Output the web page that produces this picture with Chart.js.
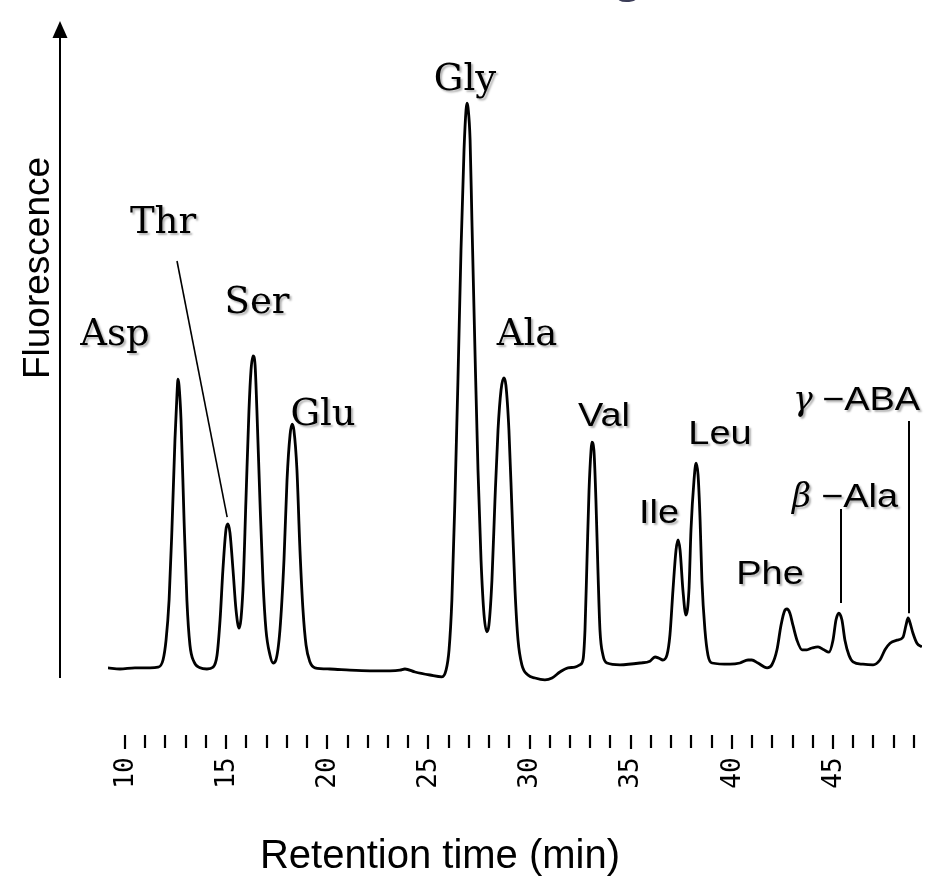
<!DOCTYPE html>
<html>
<head>
<meta charset="utf-8">
<script src="https://cdn.jsdelivr.net/npm/chart.js@4.4.1/dist/chart.umd.min.js"></script>
<style>
html, body { margin: 0; padding: 0; background: #fff; }
#chromatogram { display: block; }
</style>
</head>
<body>
<canvas id="chromatogram" width="931" height="891"></canvas>
<script>
// Trace: retention time (min) and fluorescence (arb. units)
const retentionTime = [
    9.16, 9.75, 10.49, 11.24, 11.63, 11.88, 12.03, 12.18, 12.32, 12.47,
    12.57, 12.62, 12.67, 12.77, 12.92, 13.06, 13.21, 13.41, 13.71, 14.05,
    14.35, 14.55, 14.70, 14.84, 14.99, 15.09, 15.19, 15.34, 15.49, 15.64,
    15.83, 15.98, 16.13, 16.23, 16.33, 16.43, 16.52, 16.67, 16.82, 16.97,
    17.17, 17.32, 17.46, 17.66, 17.86, 18.01, 18.16, 18.26, 18.35, 18.50,
    18.65, 18.80, 18.95, 19.14, 19.39, 20.13, 21.12, 22.11, 23.10, 23.59,
    23.84, 24.34, 25.08, 25.67, 25.87, 26.02, 26.16, 26.31, 26.46, 26.61,
    26.76, 26.86, 26.91, 26.96, 27.06, 27.15, 27.30, 27.45, 27.60, 27.75,
    27.89, 27.99, 28.14, 28.29, 28.44, 28.59, 28.73, 28.83, 28.98, 29.13,
    29.28, 29.43, 29.62, 29.92, 30.27, 30.76, 31.11, 31.50, 31.90, 32.24,
    32.49, 32.64, 32.74, 32.84, 32.94, 33.04, 33.08, 33.18, 33.28, 33.38,
    33.48, 33.63, 33.83, 34.47, 35.46, 35.95, 36.20, 36.40, 36.59, 36.79,
    36.94, 37.09, 37.24, 37.34, 37.44, 37.58, 37.73, 37.88, 37.98, 38.13,
    38.23, 38.33, 38.43, 38.52, 38.67, 38.82, 39.02, 39.91, 40.40, 40.80,
    40.99, 41.29, 41.74, 41.98, 42.23, 42.43, 42.62, 42.72, 42.87, 43.02,
    43.22, 43.47, 43.71, 43.96, 44.26, 44.55, 44.80, 45.00, 45.15, 45.29,
    45.44, 45.59, 45.79, 45.99, 46.48, 46.98, 47.32, 47.57, 47.82, 48.16,
    48.46, 48.61, 48.71, 48.80, 48.95, 49.15, 49.40
];
const fluorescence = [
    0.7, 0.5, 0.7, 0.7, 0.8, 2.0, 5.3, 12.0, 23.7, 38.7,
    46.2, 48.8, 47.8, 42.0, 25.3, 12.0, 4.5, 1.7, 0.7, 0.5,
    0.8, 2.8, 8.7, 17.0, 23.7, 24.7, 23.2, 17.0, 10.3, 7.3,
    13.7, 28.7, 43.7, 50.3, 52.7, 51.2, 43.7, 28.7, 15.3, 7.0,
    2.8, 1.5, 2.0, 7.0, 18.7, 32.0, 39.5, 41.3, 40.3, 33.7,
    20.3, 10.3, 4.5, 1.7, 0.7, 0.5, 0.3, 0.2, 0.2, 0.3,
    0.5, 0.0, -0.5, -0.8, 0.3, 3.7, 12.0, 28.7, 48.7, 70.3,
    87.0, 93.7, 94.8, 94.0, 88.7, 75.3, 53.7, 33.7, 18.7, 9.5,
    6.7, 7.8, 15.3, 28.7, 40.3, 47.0, 49.0, 47.8, 40.3, 27.0,
    13.7, 5.3, 1.2, -0.5, -1.0, -1.3, -1.0, 0.0, 0.7, 0.8,
    1.2, 2.0, 7.0, 18.7, 30.3, 37.0, 38.3, 37.0, 28.7, 17.0,
    7.0, 2.8, 1.5, 1.2, 1.5, 1.8, 2.5, 2.3, 2.0, 2.8,
    6.2, 13.7, 20.3, 22.0, 20.3, 13.7, 9.5, 13.7, 23.7, 32.0,
    34.8, 32.8, 25.3, 15.3, 7.0, 2.8, 1.5, 1.3, 1.5, 2.0,
    2.0, 1.5, 0.7, 1.2, 3.7, 7.8, 10.3, 10.5, 9.8, 7.8,
    5.3, 3.7, 3.7, 4.0, 4.2, 3.7, 3.3, 5.3, 8.7, 9.8,
    8.7, 5.3, 2.8, 1.7, 1.3, 1.2, 2.0, 3.7, 4.8, 5.3,
    5.8, 7.8, 9.0, 8.3, 6.5, 4.8, 4.2
];

// x axis: minor ticks every minute, labels every 5 min
const tickValues = [10, 11, 12, 13, 14, 15, 16, 17, 18, 19, 20, 21, 22, 23, 24, 25, 26, 27, 28, 29,
    30, 31, 32, 33, 34, 35, 36, 37, 38, 39, 40, 41, 42, 43, 44, 45, 46, 47, 48, 49];
const tickLabels = [10, 15, 20, 25, 30, 35, 40, 45];

// peak labels (Thr, beta-Ala and gamma-ABA use leader lines)
const serifLabels = [
    { text: 'Asp', x: 115, y: 345 },
    { text: 'Thr', x: 163, y: 233 },
    { text: 'Ser', x: 257, y: 313 },
    { text: 'Glu', x: 323, y: 425 },
    { text: 'Gly', x: 465, y: 90 },
    { text: 'Ala', x: 527, y: 345 }
];
const sansLabels = [
    { text: 'Val', x: 604, y: 426 },
    { text: 'Ile', x: 659, y: 523 },
    { text: 'Leu', x: 720, y: 444 },
    { text: 'Phe', x: 770, y: 584 }
];
const greekLabels = [
    { greek: 'β', text: '−Ala', x: 792, y: 507 },
    { greek: 'γ', text: '−ABA', x: 793, y: 410 }
];
// leader lines end just above their peaks
const leaderThr = { fromPx: [177, 261], time: 15.05, value: 25.8 };
const leaderBeta = { time: 45.39, top: 509, value: 11.5 };
const leaderGamma = { time: 48.74, top: 421, value: 9.8 };

const decorations = {
    id: 'decorations',
    afterDraw(chart) {
        const ctx = chart.ctx;
        const xs = chart.scales.x;
        const ys = chart.scales.y;
        const area = chart.chartArea;
        ctx.save();

        // clipped title remnant at the very top
        ctx.fillStyle = '#3b3d58';
        ctx.font = 'bold 40px "Open Sans"';
        ctx.textAlign = 'center';
        ctx.textBaseline = 'alphabetic';
        ctx.fillText('g', 628, -7);

        // y axis arrow
        ctx.strokeStyle = '#000';
        ctx.fillStyle = '#000';
        ctx.lineWidth = 2;
        ctx.beginPath();
        ctx.moveTo(60, 678);
        ctx.lineTo(60, 34);
        ctx.stroke();
        ctx.beginPath();
        ctx.moveTo(60, 21);
        ctx.lineTo(52.5, 38);
        ctx.lineTo(67.5, 38);
        ctx.closePath();
        ctx.fill();

        // Fluorescence
        ctx.save();
        ctx.translate(49, 268);
        ctx.rotate(-Math.PI / 2);
        ctx.font = '37px "Liberation Sans", Arial';
        ctx.textAlign = 'center';
        ctx.textBaseline = 'alphabetic';
        ctx.fillText('Fluorescence', 0, 0);
        ctx.restore();

        // tick marks
        const tickTop = area.bottom + 3;
        ctx.lineWidth = 2.2;
        tickValues.forEach(v => {
            const px = Math.round(xs.getPixelForValue(v));
            ctx.beginPath();
            ctx.moveTo(px, tickTop);
            ctx.lineTo(px, tickTop + (tickLabels.includes(v) ? 14 : 13));
            ctx.stroke();
        });
        // tick labels, reading upward
        ctx.font = '26px "DejaVu Sans Mono", monospace';
        ctx.textAlign = 'center';
        ctx.textBaseline = 'middle';
        tickLabels.forEach(v => {
            const px = xs.getPixelForValue(v);
            ctx.save();
            ctx.translate(px, 773);
            ctx.rotate(-Math.PI / 2);
            ctx.fillText(String(v), 0, 1);
            ctx.restore();
        });

        // Retention time (min)
        ctx.font = '40px "Liberation Sans", Arial';
        ctx.textAlign = 'center';
        ctx.textBaseline = 'alphabetic';
        ctx.fillText('Retention time (min)', 440, 868);

        // leader lines
        ctx.lineWidth = 1.6;
        ctx.beginPath();
        ctx.moveTo(leaderThr.fromPx[0], leaderThr.fromPx[1]);
        ctx.lineTo(xs.getPixelForValue(leaderThr.time), ys.getPixelForValue(leaderThr.value));
        ctx.stroke();
        ctx.lineWidth = 2;
        [leaderBeta, leaderGamma].forEach(l => {
            const px = Math.round(xs.getPixelForValue(l.time));
            ctx.beginPath();
            ctx.moveTo(px, l.top);
            ctx.lineTo(px, ys.getPixelForValue(l.value));
            ctx.stroke();
        });

        // peak labels with a soft drop shadow
        ctx.shadowColor = 'rgba(0,0,0,0.3)';
        ctx.shadowOffsetX = 2;
        ctx.shadowOffsetY = 2;
        ctx.shadowBlur = 2;
        ctx.textBaseline = 'alphabetic';
        ctx.textAlign = 'center';
        ctx.font = '37px "DejaVu Serif", serif';
        serifLabels.forEach(l => ctx.fillText(l.text, l.x, l.y));

        const stretch = 1.15;
        ctx.font = '33px "Liberation Sans", Arial';
        sansLabels.forEach(l => {
            ctx.save();
            ctx.translate(l.x, l.y);
            ctx.scale(stretch, 1);
            ctx.fillText(l.text, 0, 0);
            ctx.restore();
        });
        ctx.textAlign = 'left';
        greekLabels.forEach(l => {
            ctx.font = 'italic 33px "DejaVu Serif", serif';
            ctx.fillText(l.greek, l.x, l.y);
            ctx.save();
            ctx.translate(l.x + 29, l.y);
            ctx.scale(stretch, 1);
            ctx.font = '33px "Liberation Sans", Arial';
            ctx.fillText(l.text, 0, 0);
            ctx.restore();
        });
        ctx.restore();
    }
};

const ctx = document.getElementById('chromatogram').getContext('2d');
new Chart(ctx, {
    type: 'line',
    data: {
        datasets: [{
            label: 'Fluorescence',
            data: retentionTime.map((t, i) => ({ x: t, y: fluorescence[i] })),
            borderColor: '#000',
            borderWidth: 2.8,
            pointRadius: 0,
            cubicInterpolationMode: 'monotone',
            fill: false
        }]
    },
    options: {
        responsive: false,
        animation: false,
        events: [],
        layout: {
            padding: { left: 108, right: 9, top: 42, bottom: 159 }
        },
        scales: {
            x: { type: 'linear', min: 9.16, max: 49.4, display: false },
            y: { min: -10, max: 105, display: false }
        },
        plugins: {
            legend: { display: false },
            tooltip: { enabled: false }
        }
    },
    plugins: [decorations]
});
</script>
</body>
</html>
